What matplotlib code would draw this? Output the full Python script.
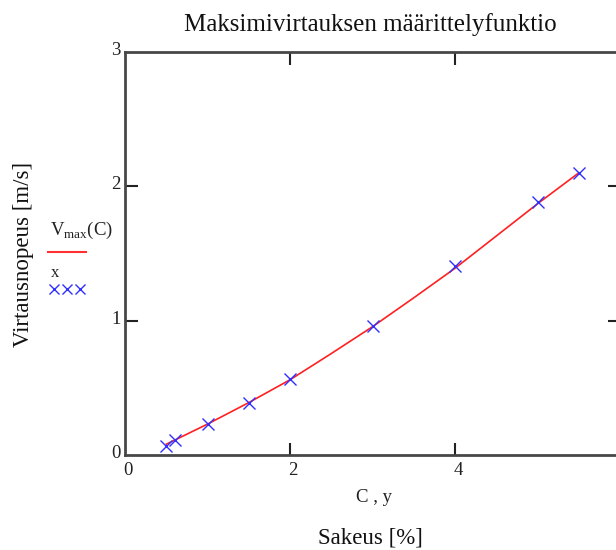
import matplotlib.pyplot as plt

# measured points (C [%], velocity [m/s])
c_points = [0.5, 0.6, 1.0, 1.5, 2.0, 3.0, 4.0, 5.0, 5.5]
v_points = [0.07, 0.11, 0.23, 0.39, 0.565, 0.96, 1.405, 1.88, 2.10]

# Vmax(C) curve
c_curve = [0.5, 1.0, 1.5, 2.0, 2.5, 3.0, 3.5, 4.0, 4.5, 5.0, 5.5]
v_curve = [0.08, 0.23, 0.39, 0.56, 0.755, 0.955, 1.17, 1.39, 1.63, 1.87, 2.10]

x_ticks = [2, 4]
y_ticks = [1, 2]

plt.rcParams['font.family'] = ['Liberation Serif', 'DejaVu Serif']
spine_col = '#474747'

fig = plt.figure(figsize=(6.16, 5.5), dpi=100)
W, H = 616, 550
ax = fig.add_axes([125 / W, (H - 455) / H, (620 - 125) / W, (455 - 52) / H])

ax.plot(c_curve, v_curve, color='#ff2020', lw=1.2)
ax.plot(c_points, v_points, ls='none', marker='x', ms=8, mew=1.0, color='#3030ff')

ax.set_xlim(0, 6)
ax.set_ylim(0, 3)
for s in ax.spines.values():
    s.set_color(spine_col)
    s.set_linewidth(2)

ax.set_xticks(x_ticks)
ax.set_yticks(y_ticks)
ax.tick_params(direction='in', length=9, width=1.5, color='#222222',
               top=True, right=True, labelbottom=False, labelleft=False)

# tick labels in Mathcad style
lab = dict(fontsize=13.5, color='#222222')
for v in [0, 1, 2, 3]:
    ax.text(-0.05, v + 0.01, str(v), ha='right', va='center', transform=ax.transData, **lab)
for v in [0, 2, 4]:
    ax.text(v + 0.04, -0.05, str(v), ha='center', va='top', transform=ax.transData, **lab)

fig.text(370 / W, 1 - 25 / H, 'Maksimivirtauksen määrittelyfunktio', ha='center', va='center',
         fontsize=18, color='#111111')
fig.text(374 / W, 1 - 497 / H, 'C , y', ha='center', va='center', fontsize=13.5, color='#222222')
fig.text(370 / W, 1 - 538 / H, 'Sakeus [%]', ha='center', va='center', fontsize=16.5, color='#111111')
fig.text(24 / W, 1 - 254 / H, 'Virtausnopeus [m/s]', ha='center', va='center', rotation=90,
         fontsize=16.5, color='#111111')

# legend drawn like the original
fig.text(50 / W, 1 - 230 / H, r'V$_{\mathregular{max}}$(C)', ha='left', va='center',
         fontsize=13.5, color='#222222')
fig.lines.append(plt.Line2D([48 / W, 86 / W], [1 - 252 / H, 1 - 252 / H], color='#ff3030',
                            lw=1.5, transform=fig.transFigure))
fig.text(51 / W, 1 - 273 / H, 'x', ha='left', va='center', fontsize=12, color='#222222')
for px in [54, 67, 80]:
    fig.lines.append(plt.Line2D([px / W], [1 - 289 / H], ls='none', marker='x', ms=7, mew=1.0,
                                color='#3030ff', transform=fig.transFigure))

fig.savefig('out.png', dpi=100)
